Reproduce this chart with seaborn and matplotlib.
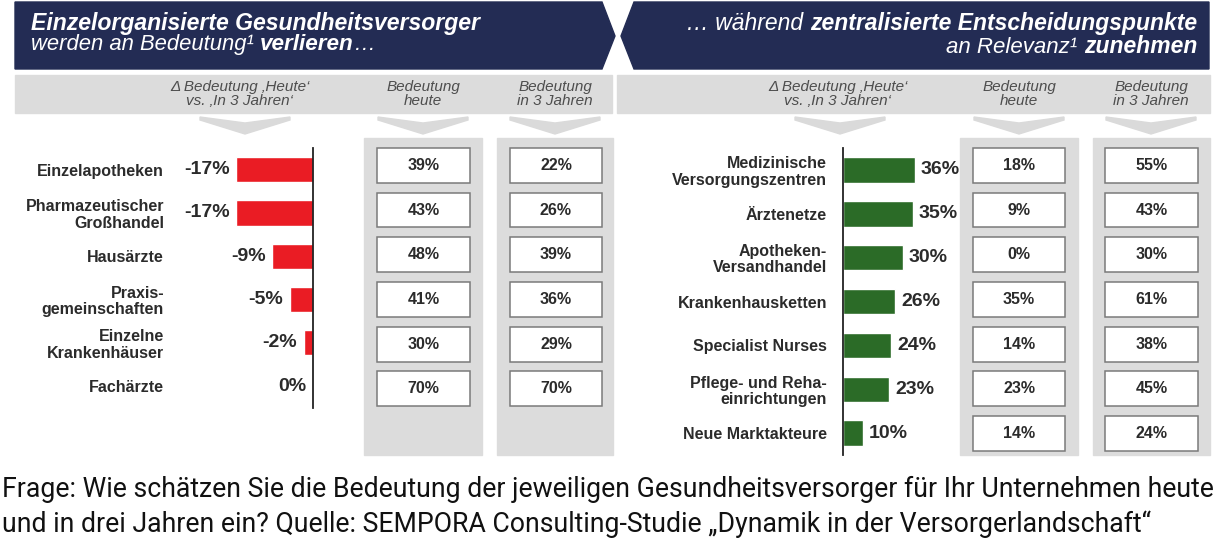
import matplotlib
matplotlib.use("Agg")
import matplotlib.pyplot as plt
from matplotlib.patches import Polygon, Rectangle
import pandas as pd
import seaborn as sns

# left panel: providers losing importance
left_labels = [
    "Einzelapotheken",
    "Pharmazeutischer\nGroßhandel",
    "Hausärzte",
    "Praxis-\ngemeinschaften",
    "Einzelne\nKrankenhäuser",
    "Fachärzte",
]
left_delta = [-17, -17, -9, -5, -2, 0]
left_today = [39, 43, 48, 41, 30, 70]
left_future = [22, 26, 39, 36, 29, 70]

# right panel: central decision points gaining relevance
right_labels = [
    "Medizinische\nVersorgungszentren",
    "Ärztenetze",
    "Apotheken-\nVersandhandel",
    "Krankenhausketten",
    "Specialist Nurses",
    "Pflege- und Reha-\neinrichtungen",
    "Neue Marktakteure",
]
right_delta = [36, 35, 30, 26, 24, 23, 10]
right_today = [18, 9, 0, 35, 14, 23, 14]
right_future = [55, 43, 30, 61, 38, 45, 24]

col_head_delta = "\u0394 Bedeutung \u201aHeute\u2018\nvs. \u201aIn 3 Jahren\u2018"
col_head_today = "Bedeutung\nheute"
col_head_future = "Bedeutung\nin 3 Jahren"
caption_lines = [
    "Frage: Wie schätzen Sie die Bedeutung der jeweiligen Gesundheitsversorger "
    "für Ihr Unternehmen heute",
    "und in drei Jahren ein? Quelle: SEMPORA Consulting-Studie "
    "\u201eDynamik in der Versorgerlandschaft\u201c",
]

NAVY = "#232c54"
RED = "#ea1c24"
GREEN = "#2b6b27"
LIGHT = "#dcdcdc"
TXT = "#2b2b2b"

sns.set_theme(style="white")
plt.rcParams["font.family"] = ["Liberation Sans", "DejaVu Sans"]

W, H = 1222, 553
fig = plt.figure(figsize=(W / 100, H / 100), dpi=100)


def px_axes(x0, y0, x1, y1):
    return fig.add_axes([x0 / W, 1 - y1 / H, (x1 - x0) / W, (y1 - y0) / H])


bg = px_axes(0, 0, W, H)
bg.set_xlim(0, W)
bg.set_ylim(H, 0)
bg.axis("off")

# navy headers, pointing towards each other
bg.add_patch(Polygon([(15, 2), (602, 2), (615, 36), (602, 69), (15, 69)], color=NAVY))
bg.add_patch(Polygon([(634, 2), (1209, 2), (1209, 69), (634, 69), (621, 36)], color=NAVY))

# grey column-header strips
bg.add_patch(Rectangle((15, 75), 597, 38, color=LIGHT))
bg.add_patch(Rectangle((617, 75), 593, 38, color=LIGHT))

# grey columns behind the boxes
for x0, x1 in [(364, 482), (497, 613), (960, 1078), (1093, 1210)]:
    bg.add_patch(Rectangle((x0, 138), x1 - x0, 317, color=LIGHT))

# down chevrons
for cx in [245, 423, 555, 840, 1019, 1151]:
    bg.add_patch(Polygon([(cx - 45, 117), (cx, 123), (cx + 45, 117), (cx + 45, 120),
                          (cx, 134), (cx - 45, 120)], color="#dadada"))

# column header texts
head_kw = dict(ha="center", va="center", fontsize=11, style="italic",
               color="#4d4d4d", linespacing=1.0)
for cx, s in [(240, col_head_delta), (423, col_head_today), (555, col_head_future),
              (838, col_head_delta), (1019, col_head_today), (1151, col_head_future)]:
    bg.text(cx, 94, s, **head_kw)


# title pieces with mixed weights
def chain(x, y, pieces, align):
    prev = None
    order = pieces if align == "left" else list(reversed(pieces))
    anchor = 1 if align == "left" else 0
    for s, weight, size in order:
        kw = dict(ha=align, va="baseline", color="white", style="italic",
                  fontweight=weight, fontsize=size)
        if prev is None:
            prev = bg.text(x, y, s, **kw)
        else:
            prev = bg.annotate(s, xy=(anchor, y), xycoords=(prev, bg.transData), **kw)


chain(31, 30, [("Einzelorganisierte Gesundheitsversorger", "bold", 16.6)], "left")
chain(31, 50, [("werden an Bedeutung\u00b9 ", "normal", 15.8),
               ("verlieren", "bold", 16.2), ("\u2026", "normal", 15.8)], "left")
chain(1197, 30, [("\u2026 während ", "normal", 16.5),
                 ("zentralisierte Entscheidungspunkte", "bold", 16.5)], "right")
chain(1197, 53, [("an Relevanz\u00b9 ", "normal", 16),
                 ("zunehmen", "bold", 16.5)], "right")

# left bars
dl = pd.DataFrame({"label": left_labels, "delta": left_delta})
axl = px_axes(180, 148, 313, 148 + 43.3 * len(left_labels))
sns.barplot(data=dl, x="delta", y="label", color=RED, saturation=1, width=0.58, ax=axl)
axl.set_xlim(-(313 - 180) / 4.5, 0)
for i, v in enumerate(left_delta):
    axl.annotate(f"{v}%", xy=(v, i), xytext=(-7, 0), textcoords="offset pixels",
                 ha="right", va="center", fontsize=14, fontweight="bold", color=TXT)

# right bars
dr = pd.DataFrame({"label": right_labels, "delta": right_delta})
axr = px_axes(843, 148, 960, 148 + 43.3 * len(right_labels) + 4)
sns.barplot(data=dr, x="delta", y="label", color=GREEN, saturation=1, width=0.58, ax=axr)
axr.set_xlim(0, (960 - 843) / 2.0)
for i, v in enumerate(right_delta):
    axr.annotate(f"{v}%", xy=(v, i), xytext=(6, 0), textcoords="offset pixels",
                 ha="left", va="center", fontsize=14, fontweight="bold", color=TXT)

for ax, side in [(axl, "right"), (axr, "left")]:
    ax.set_xlabel("")
    ax.set_ylabel("")
    ax.set_xticks([])
    ax.patch.set_alpha(0)
    for name, sp in ax.spines.items():
        sp.set_visible(name == side)
    ax.spines[side].set_color("#222222")
    ax.spines[side].set_linewidth(1.3)
    ax.tick_params(axis="y", length=0, pad=11.5, labelsize=11.5, labelcolor=TXT)
    for t in ax.get_yticklabels():
        t.set_fontweight("bold")
        t.set_linespacing(1.1)


# boxes with percentages
def box_column(x0, x1, values):
    n = len(values)
    ax = px_axes(x0, 143, x1, 143 + 44.7 * n)
    ax.set_xlim(0, 1)
    ax.set_ylim(n - 0.5, -0.5)
    ax.axis("off")
    for i, v in enumerate(values):
        ax.add_patch(Rectangle((0, i - 0.39), 1, 0.78, facecolor="white",
                               edgecolor="#7a7a7a", lw=1.1, clip_on=False))
        ax.text(0.5, i, f"{v}%", ha="center", va="center", fontsize=11.5,
                fontweight="bold", color=TXT)


box_column(377, 470, left_today)
box_column(510, 602, left_future)
box_column(973, 1065, right_today)
box_column(1105, 1198, right_future)

for y, line in zip([497, 532], caption_lines):
    bg.text(2, y, line, ha="left", va="baseline", fontsize=19.2, color="#111111",
            family=["Roboto", "DejaVu Sans"])

fig.savefig("out.png", dpi=100)
